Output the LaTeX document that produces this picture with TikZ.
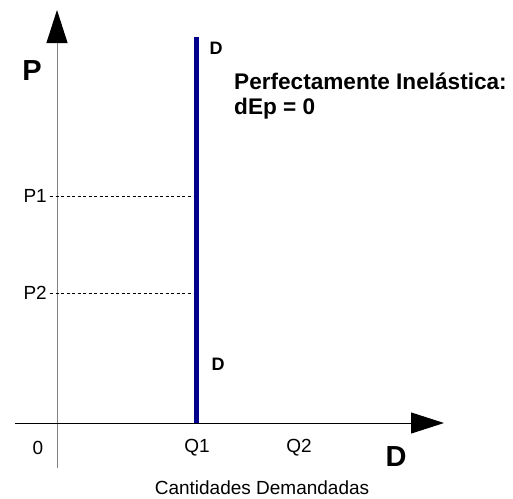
\documentclass[tikz,border=0pt]{standalone}
\usepackage{fontspec}
\setmainfont{Liberation Sans}
\usetikzlibrary{arrows.meta}

\definecolor{demandblue}{RGB}{0,0,140}

\tikzset{
    axisline/.style={line width=1pt},
    axistip/.style={-{Triangle[length=33pt,width=21pt,color=black]}},
    demandline/.style={demandblue, line width=5pt},
    guideline/.style={black, line width=0.8pt, dash pattern=on 3pt off 2.5pt},
    ticklabel/.style={font=\fontsize{19}{22}\selectfont, inner sep=0pt},
    curvelabel/.style={font=\fontsize{18}{21}\selectfont\bfseries, inner sep=0pt},
    axislabel/.style={font=\fontsize{29}{33}\selectfont\bfseries, inner sep=0pt}
}

\begin{document}
\begin{tikzpicture}[x=1pt, y=-1pt]

    % Keep the page the size of the original drawing
    \useasboundingbox (0,0) rectangle (513,498);

    % Axis end points
    \coordinate (ybot) at (57,468);
    \coordinate (ytop) at (57,10);
    \coordinate (xleft) at (15,423);
    \coordinate (xright) at (444,423);

    % Draw axes
    \draw[axisline, gray, axistip] (ybot) -- (ytop);
    \draw[axisline, black, axistip] (xleft) -- (xright);

    % Vertical demand curve at Q1
    \coordinate (dtop) at (196,37);
    \coordinate (dbot) at (196,423);
    \draw[demandline] (dtop) -- (dbot);

    % Price labels
    \node[ticklabel, anchor=east] (p1) at (47,196) {P1};
    \node[ticklabel, anchor=east] (p2) at (47,293) {P2};

    % Dashed guides from the prices to the curve
    \coordinate (p1end) at (193,196);
    \coordinate (p2end) at (193,293);
    \draw[guideline] (p1.east) ++(3,0) -- (p1end);
    \draw[guideline] (p2.east) ++(3,0) -- (p2end);

    % Quantity labels
    \node[ticklabel] (zero) at (38,448) {0};
    \node[ticklabel] (q1) at (197,448) {Q1};
    \node[ticklabel] (q2) at (299,448) {Q2};

    % Axis names
    \node[axislabel] (plabel) at (32,71) {P};
    \node[axislabel] (dlabel) at (396,457) {D};
    \node[ticklabel] (qname) at (262,488) {Cantidades Demandadas};

    % Curve labels
    \node[curvelabel] (dupper) at (216,48) {D};
    \node[curvelabel] (dlower) at (218,364) {D};

    % Elasticity note
    \node[font=\fontsize{22.6}{25}\selectfont\bfseries, inner sep=0pt, anchor=base west, align=left] (note) at (234,114)
        {Perfectamente Inelástica:\\dEp = 0};

\end{tikzpicture}
\end{document}
